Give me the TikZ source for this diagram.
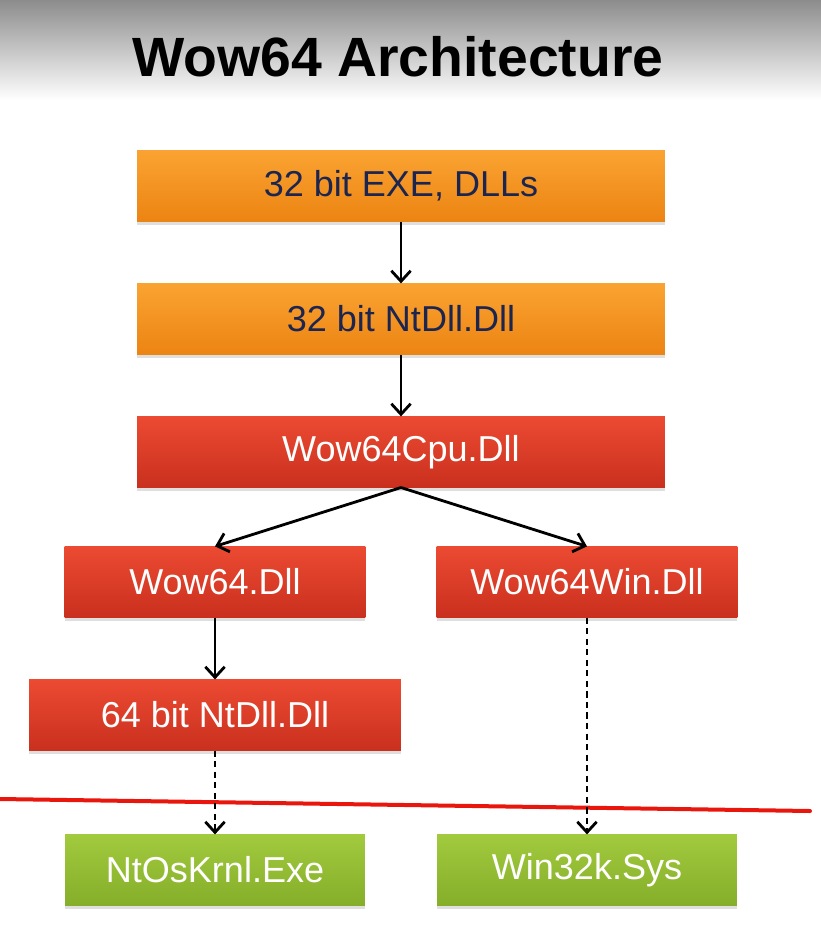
\documentclass[tikz,border=0pt]{standalone}
\usepackage{fontspec}
\setmainfont{Liberation Sans}
\usetikzlibrary{positioning,arrows.meta,shadows}

\definecolor{orangetop}{HTML}{FAA332}
\definecolor{orangebot}{HTML}{EC8412}
\definecolor{redtop}{HTML}{EC4A32}
\definecolor{redbot}{HTML}{C9301E}
\definecolor{greentop}{HTML}{A2CA3E}
\definecolor{greenbot}{HTML}{85AE2A}
\definecolor{navytext}{HTML}{1C2550}
\definecolor{linered}{HTML}{E8160C}

\tikzset{
  blk/.style={rectangle, minimum height=1.41cm, inner sep=0pt,
    font=\fontsize{20.5}{24}\selectfont,
    drop shadow={shadow xshift=0pt, shadow yshift=-2pt, opacity=0.25}},
  orangebox/.style={blk, top color=orangetop, bottom color=orangebot, text=navytext},
  redbox/.style={blk, top color=redtop, bottom color=redbot, text=white},
  greenbox/.style={blk, top color=greentop, bottom color=greenbot, text=white},
  link/.style={-{Straight Barb[length=6pt,width=11pt]}, line width=1.6pt, black},
  dashlink/.style={link, dash pattern=on 3.5pt off 2.5pt}
}

\begin{document}
\begin{tikzpicture}[x=0.02cm, y=-0.02cm, node distance=2.66cm]
\useasboundingbox (0,0) rectangle (821,926);
\shade[top color=black!45, bottom color=white] (0,0) rectangle (821,100);
\node[font=\fontsize{31.5}{36}\selectfont\bfseries] (Title) at (398,57) {Wow64 Architecture};

\node[orangebox, minimum width=10.56cm] (Exe32) at (401,186) {32 bit EXE, DLLs};
\node[orangebox, minimum width=10.56cm] (NtDll32) [below of= Exe32] {32 bit NtDll.Dll};
\node[redbox, minimum width=10.56cm] (Wow64Cpu) [below of= NtDll32] {Wow64Cpu.Dll};
\node[redbox, minimum width=6.02cm] (Wow64) at (215,582) {Wow64.Dll};
\node[redbox, minimum width=6.02cm] (Wow64Win) at (587,582) {Wow64Win.Dll};
\node[redbox, minimum width=7.44cm] (NtDll64) at (215,715) {64 bit NtDll.Dll};
\node[greenbox, minimum width=6.0cm] (NtOsKrnl) at (215,870) {NtOsKrnl.Exe};
\node[greenbox, minimum width=6.0cm] (Win32k) at (587,870) {Win32k.Sys};

\draw[linered, line width=0.08cm, line cap=round] (0,799) -- (810,811);

\draw[link] (Exe32) 		-- (NtDll32);
\draw[link] (NtDll32) 		-- (Wow64Cpu);
\draw[link] (Wow64Cpu.south) -- (Wow64.north);
\draw[link] (Wow64Cpu.south) -- (Wow64Win.north);
\draw[link] (Wow64) 		-- (NtDll64);
\draw[dashlink] (NtDll64) 	-- (NtOsKrnl);
\draw[dashlink] (Wow64Win) 	-- (Win32k);

\end{tikzpicture}
\end{document}
